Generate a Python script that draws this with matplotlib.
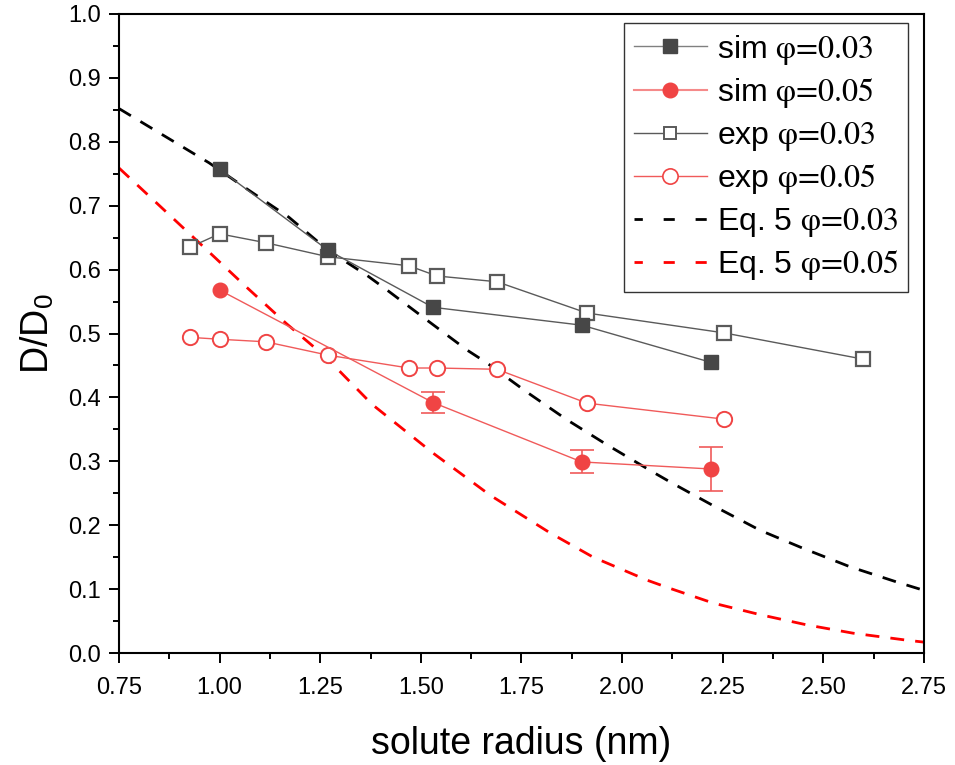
import numpy as np
import matplotlib
matplotlib.use('Agg')
import matplotlib.pyplot as plt
from matplotlib.ticker import MultipleLocator, AutoMinorLocator

plt.rcParams['font.family'] = ['Liberation Sans', 'DejaVu Sans']
plt.rcParams['mathtext.fontset'] = 'stix'

# simulation data
sim_r = [1.00, 1.27, 1.53, 1.90, 2.22]
sim_03 = [0.757, 0.630, 0.541, 0.513, 0.455]
sim_03_err = [0.003, 0.003, 0.007, 0.005, 0.003]
sim_05_r = [1.00, 1.53, 1.90, 2.22]
sim_05 = [0.568, 0.392, 0.299, 0.288]
sim_05_err = [0.0, 0.016, 0.018, 0.034]

# experimental data
exp_03_r = [0.926, 1.00, 1.115, 1.27, 1.47, 1.54, 1.689, 1.913, 2.253, 2.598]
exp_03 = [0.635, 0.656, 0.642, 0.620, 0.606, 0.590, 0.581, 0.532, 0.501, 0.460]
exp_05_r = [0.926, 1.00, 1.115, 1.27, 1.47, 1.54, 1.689, 1.913, 2.253]
exp_05 = [0.494, 0.491, 0.487, 0.466, 0.446, 0.446, 0.444, 0.391, 0.366]

# Eq. 5 curves
eq_03_r = [0.75, 0.974, 1.066, 1.172, 1.27, 1.366, 1.416, 1.515, 1.615, 1.664, 1.764,
           1.863, 1.962, 2.077, 2.124, 2.231, 2.343, 2.449, 2.566, 2.683, 2.75]
eq_03 = [0.852, 0.767, 0.727, 0.682, 0.630, 0.591, 0.568, 0.521, 0.474, 0.454, 0.408,
         0.365, 0.326, 0.283, 0.266, 0.229, 0.192, 0.164, 0.135, 0.111, 0.098]
eq_05_r = [0.75, 0.849, 0.956, 1.066, 1.165, 1.264, 1.379, 1.530, 1.672, 1.821, 1.928,
           2.062, 2.115, 2.227, 2.343, 2.459, 2.574, 2.708, 2.75]
eq_05 = [0.759, 0.701, 0.638, 0.573, 0.516, 0.463, 0.389, 0.313, 0.247, 0.188, 0.150,
         0.114, 0.102, 0.078, 0.060, 0.044, 0.031, 0.020, 0.017]

labels = ['sim $\\text{φ=0.03}$', 'sim $\\text{φ=0.05}$',
          'exp $\\text{φ=0.03}$', 'exp $\\text{φ=0.05}$',
          'Eq. 5 $\\text{φ=0.03}$', 'Eq. 5 $\\text{φ=0.05}$']

fig = plt.figure(figsize=(9.55, 7.65), dpi=100)
ax = fig.add_axes([0.1246, 0.1464, 0.8429, 0.8353])

gray_line = '#5a5a5a'
gray_mark = '#474747'
red_line = '#f05a5a'
red_mark = '#f04444'

ax.plot(eq_03_r, eq_03, color='black', ls=(0, (5, 4)), lw=2, zorder=2)
ax.plot(eq_05_r, eq_05, color='#ff0000', ls=(0, (5, 4)), lw=2, zorder=2)

# sim phi=0.03
ax.errorbar(sim_r, sim_03, yerr=sim_03_err, fmt='none', ecolor=gray_line, elinewidth=1,
            capsize=0, zorder=3)
ax.plot(sim_r, sim_03, color=gray_line, lw=1, marker='s', ms=9.5,
        mfc=gray_mark, mec=gray_mark, zorder=4)

# sim phi=0.05 (no error bar on first point)
ax.errorbar(sim_05_r[1:], sim_05[1:], yerr=sim_05_err[1:], fmt='none', ecolor=red_line,
            elinewidth=1.2, capsize=8.5, capthick=1.2, zorder=3)
ax.plot(sim_05_r, sim_05, color=red_line, lw=1, marker='o', ms=10.5,
        mfc=red_mark, mec=red_mark, zorder=4)

ax.plot(exp_03_r, exp_03, color=gray_line, lw=1, marker='s', ms=9.5, mfc='white',
        mec='#5a5a5a', mew=1.6, zorder=3)
ax.plot(exp_05_r, exp_05, color=red_line, lw=1, marker='o', ms=11, mfc='white',
        mec=red_mark, mew=1.4, zorder=3)

# legend handles
h1, = ax.plot([], [], color='#808080', lw=1, marker='s', ms=9.5, mfc=gray_mark, mec=gray_mark)
h2, = ax.plot([], [], color='#f58a8a', lw=1.5, marker='o', ms=10.5, mfc=red_mark, mec=red_mark)
h3, = ax.plot([], [], color=gray_line, lw=1, marker='s', ms=9, mfc='white', mec='#5a5a5a', mew=1.4)
h4, = ax.plot([], [], color=red_line, lw=1, marker='o', ms=11, mfc='white', mec=red_mark, mew=1.2)
h5, = ax.plot([], [], color='black', ls=(1, (4, 7.5)), lw=2)
h6, = ax.plot([], [], color='#ff0000', ls=(1, (4, 7.5)), lw=2)
leg = ax.legend([h1, h2, h3, h4, h5, h6], labels, loc='upper right',
                bbox_to_anchor=(0.980, 0.986), fontsize=23, frameon=True, fancybox=False,
                edgecolor='#333333', framealpha=1, handlelength=2.3, handletextpad=0.3,
                labelspacing=0.3, borderpad=0.3, borderaxespad=0)
leg.get_frame().set_linewidth(1.0)

ax.set_xlim(0.75, 2.75)
ax.set_ylim(0.0, 1.0)
ax.xaxis.set_major_locator(MultipleLocator(0.25))
ax.yaxis.set_major_locator(MultipleLocator(0.1))
ax.xaxis.set_minor_locator(AutoMinorLocator(2))
ax.yaxis.set_minor_locator(AutoMinorLocator(2))
ax.set_xticklabels([f'{v:.2f}' for v in ax.get_xticks()])
ax.set_yticklabels([f'{v:.1f}' for v in ax.get_yticks()])
ax.tick_params(which='major', direction='out', length=7, width=1.4, labelsize=17, pad=6)
ax.tick_params(axis='x', which='major', pad=10)
ax.tick_params(which='minor', direction='out', length=4, width=1.4)
for s in ax.spines.values():
    s.set_linewidth(1.5)

ax.set_xlabel('solute radius (nm)', fontsize=27, labelpad=20)
ax.set_ylabel(r'D/D$_\mathregular{0}$', fontsize=27, labelpad=8)

fig.savefig('out.png', dpi=100)
